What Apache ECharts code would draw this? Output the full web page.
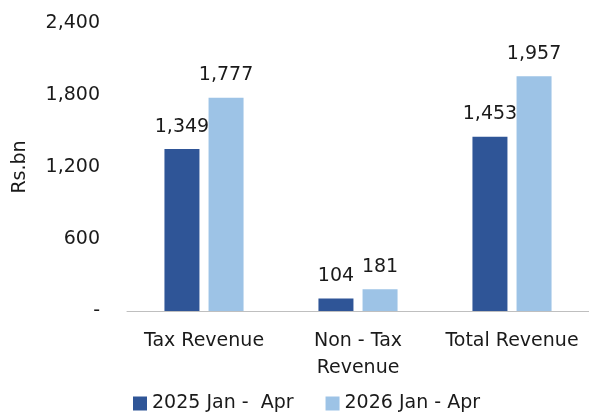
<!DOCTYPE html>
<html>
<head>
<meta charset="utf-8">
<script src="https://cdn.jsdelivr.net/npm/echarts@6/dist/echarts.min.js"></script>
<style>
  html, body { margin: 0; padding: 0; background: #fff; }
  #chart { width: 589px; height: 413px; }
</style>
</head>
<body>
<div id="chart"></div>
<script>
var categories = ['Tax Revenue', 'Non - Tax\nRevenue', 'Total Revenue'];
var seriesNames = ['2025 Jan -  Apr', '2026 Jan - Apr'];
var values2025 = [1349, 104, 1453];
var values2026 = [1777, 181, 1957];

var fontFam = '"DejaVu Sans", sans-serif';
var txt = '#1a1a1a';

function fmt(v) {
    return v === 0 ? '-' : v.toLocaleString('en-US');
}

var chart = echarts.init(document.getElementById('chart'));
var option = {
    color: ['#2F5597', '#9DC3E6'],
    textStyle: { fontFamily: fontFam },
    grid: { left: 127, right: -6, top: 23, bottom: 102, containLabel: false },
    legend: {
        bottom: 0,
        left: 133,
        padding: 0,
        itemWidth: 14,
        itemHeight: 14,
        itemGap: 32,
        icon: 'rect',
        textStyle: { fontSize: 19, color: txt, fontFamily: fontFam },
        data: seriesNames
    },
    xAxis: {
        type: 'category',
        data: categories,
        axisLine: { lineStyle: { color: '#bfbfbf', width: 1 } },
        axisTick: { show: false },
        axisLabel: { fontSize: 19, color: txt, margin: 17, lineHeight: 27, interval: 0 }
    },
    yAxis: {
        type: 'value',
        min: 0,
        max: 2400,
        interval: 600,
        name: 'Rs.bn',
        nameLocation: 'middle',
        nameGap: 97,
        nameRotate: 90,
        nameTextStyle: { fontSize: 19, color: txt },
        axisLine: { show: false },
        axisTick: { show: false },
        splitLine: { show: false },
        axisLabel: { fontSize: 19, color: txt, margin: 27, formatter: fmt }
    },
    series: [
        {
            name: seriesNames[0],
            type: 'bar',
            data: values2025,
            barWidth: 35,
            barGap: '26%',
            label: { show: true, position: 'top', distance: 13, fontSize: 19, color: txt, formatter: function (p) { return fmt(p.value); } }
        },
        {
            name: seriesNames[1],
            type: 'bar',
            data: values2026,
            barWidth: 35,
            label: { show: true, position: 'top', distance: 13, fontSize: 19, color: txt, formatter: function (p) { return fmt(p.value); } }
        }
    ]
};
chart.setOption(option);
</script>
</body>
</html>
